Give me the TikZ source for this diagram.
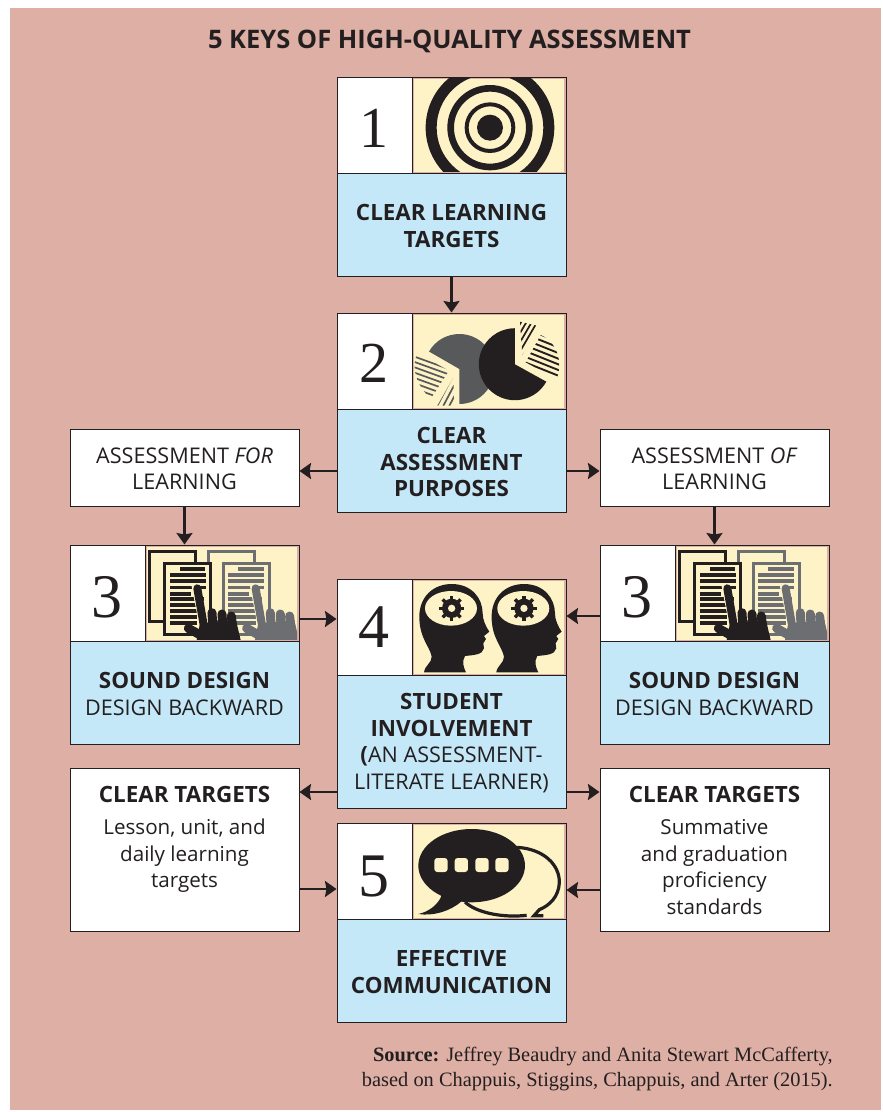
\documentclass[tikz,border=0pt]{standalone}
\usepackage{fontspec}
\setmainfont{Liberation Serif}
\newfontfamily\numfont{Liberation Serif}
\newfontfamily\sansf{Open Sans}
\usetikzlibrary{arrows.meta}
\definecolor{pinkbg}{HTML}{DEAFA4}
\definecolor{bluebg}{HTML}{C5E8F8}
\definecolor{creambg}{HTML}{FEF3C7}
\definecolor{inkc}{HTML}{231F20}
\definecolor{grayA}{HTML}{58595B}
\definecolor{grayB}{HTML}{6D6E71}
\newcommand\bt[1]{{\bfseries\fontsize{22.4}{26.5}\selectfont #1}}
\newcommand\up[1]{{\fontsize{21.6}{26.5}\selectfont #1}}
\tikzset{
  x=1pt,y=-1pt,
  panelbox/.style={draw=inkc,line width=1pt,anchor=north west,inner sep=0pt,outer sep=0pt},
  txt/.style={text=inkc,align=center,font=\sansf\fontsize{20.6}{26.5}\selectfont,inner sep=0pt},
  arr/.style={draw=inkc,line width=2.1pt,-{Stealth[length=11.5pt,width=16pt,inset=1.5pt]},shorten >=.5pt},
  iconunits/.style={x=.3333pt,y=-.3333pt},
}
\newcommand\keypanel[8]{% name,x,y,number,body height,text,size,baseline
  \node[panelbox,fill=white,minimum width=75pt,minimum height=96pt] (#1num) at (#2,#3) {};
  \node[panelbox,fill=pinkbg,minimum width=154pt,minimum height=96pt] (#1img) at ({#2+75},#3) {};
  \fill[creambg] ({#2+76.5},{#3+1.5}) rectangle ({#2+227},{#3+94.5});
  \node[panelbox,fill=bluebg,minimum width=229pt,minimum height=#5pt] (#1body) at (#2,{#3+96}) {};
  \node[txt] (#1text) at ([yshift=-1.5pt]#1body.center) {#6};
  \node[panelbox,minimum width=229pt,minimum height={96pt+#5pt}] (#1) at (#2,#3) {};
  \node[text=inkc,font=\numfont\fontsize{#7}{#7}\selectfont,inner sep=0pt,anchor=base] (#1n) at ({#2+37},{#3+#8}) {#4};
}
\newcommand\iconin[5]{% panel x,y, crop x,y, drawing
  \begin{scope}
    \clip ({#1+76.5},{#2+1.5}) rectangle ({#1+227},{#2+94.5});
    \begin{scope}[shift={(#3,#4)},iconunits]
      #5
    \end{scope}
  \end{scope}
}
\newcommand\icontarget{%
  \fill[inkc,even odd rule] (480,173) circle[radius=193] circle[radius=160];
  \fill[inkc,even odd rule] (480,173) circle[radius=128] circle[radius=108];
  \fill[inkc,even odd rule] (480,173) circle[radius=76] circle[radius=64];
  \fill[inkc] (480,173) circle[radius=39];
}
\newcommand\iconpies{%
  \fill[grayA] (388,192) -- (388,297) arc[start angle=90,end angle=-150,radius=105] -- cycle;
  \begin{scope}
    \clip (262,145) -- (357,197) -- (303,280) .. controls (265,250) and (240,190) .. (262,145) -- cycle;
    \foreach \yy in {70,86,...,250} \draw[grayA,line width=1.7pt] (240,\yy) -- (370,{\yy+47});
  \end{scope}
  \begin{scope}
    \clip (370,218) -- (372,302) -- (322,302) -- cycle;
    \foreach \xx in {300,318,...,390} \draw[grayA,line width=1.7pt] (\xx,310) -- ({\xx+60},196);
  \end{scope}
  \fill[inkc] (555,178) -- (649,230) arc[start angle=29,end angle=270,radius=108] -- cycle;
  \begin{scope}
    \clip (570,50) -- (622,62) -- (577,150) -- cycle;
    \foreach \xx in {510,526,...,640} \draw[inkc,line width=1.7pt] (\xx,160) -- ({\xx+70},40);
  \end{scope}
  \begin{scope}
    \clip (632,90) .. controls (680,110) and (700,170) .. (680,222) -- (587,172) -- cycle;
    \foreach \yy in {30,47,...,200} \draw[inkc,line width=1.9pt] (570,\yy) -- (700,{\yy+52});
  \end{scope}
}
\newcommand\docshape[1]{%
  \filldraw[draw=#1,fill=creambg,line width=3pt] (270,33) rectangle (408,243);
  \filldraw[draw=#1,fill=creambg,line width=3pt] (315,69) rectangle (453,283);
  \fill[#1] (360,81) rectangle (436,93);
  \foreach \yy/\xe in {99/438,118/438,137/438,156/392,172/432,190/432,208/432,226/412,243/412}
    \fill[#1] (330,\yy) rectangle (\xe,{\yy+11});
  \draw[creambg,line width=3pt] (398,130) -- (425,270);
  \fill[#1] (420,250) -- (528,240) -- (542,300) -- (410,300) -- cycle;
  \draw[#1,line width=8pt,line cap=round] (412,145) -- (432,260);
  \draw[#1,line width=9pt,line cap=round] (456,218) -- (460,280);
  \draw[#1,line width=9pt,line cap=round] (486,222) -- (490,280);
  \draw[#1,line width=9pt,line cap=round] (514,228) -- (520,285);
  \draw[#1,line width=9pt,line cap=round] (385,265) -- (430,290);
}
\newcommand\icondocs{%
  \begin{scope}[xshift=58.3pt]\docshape{grayB}\end{scope}
  \docshape{inkc}
}
\newcommand\onehead{%
  \fill[inkc] (282,292) .. controls (285,270) and (305,265) .. (305,245)
    .. controls (300,215) and (268,190) .. (268,125)
    .. controls (268,65) and (310,27) .. (365,27)
    .. controls (425,27) and (458,70) .. (458,115)
    .. controls (458,135) and (468,155) .. (478,170)
    -- (462,183) -- (468,192) -- (460,205) -- (462,220)
    .. controls (458,240) and (430,240) .. (405,243)
    .. controls (395,260) and (400,275) .. (408,292) -- cycle;
  \fill[creambg] (363,100) ellipse[x radius=78,y radius=52];
  \fill[inkc] (365,100) circle[radius=29];
  \foreach \aa in {0,45,...,315}
    \draw[inkc,line width=3.4pt] (365,100) -- ++(\aa:38);
  \fill[creambg] (365,100) circle[radius=11];
}
\newcommand\iconheads{%
  \onehead
  \begin{scope}[xshift=72.3pt]\onehead\end{scope}
}
\newcommand\iconspeech{%
  \draw[inkc,line width=3.2pt] (560,88) .. controls (640,92) and (690,140) .. (688,195)
    .. controls (686,235) and (660,262) .. (628,275) -- (612,293) -- (640,293);
  \draw[inkc,line width=3.2pt] (405,252) .. controls (440,285) and (520,300) .. (590,292);
  \fill[inkc] (425,143) ellipse[x radius=160,y radius=110];
  \fill[inkc] (335,232) .. controls (325,260) and (295,282) .. (265,288)
    .. controls (310,295) and (360,280) .. (395,250) -- cycle;
  \foreach \xx in {333,394,456,516}
    \fill[creambg,rounded corners=3pt] ({\xx-20},120) rectangle ({\xx+20},162);
}
\begin{document}
\begin{tikzpicture}
\useasboundingbox (0,0) rectangle (883,1112);
\fill[white] (0,0) rectangle (883,1112);
\fill[pinkbg] (10,8) rectangle (881,1110);
\node[text=inkc,inner sep=0pt,font=\sansf\bfseries\fontsize{25.5}{30}\selectfont] (title) at (449.5,41) {5 KEYS OF HIGH-QUALITY ASSESSMENT};

\keypanel{kone}{337}{77}{1}{103}{\bt{CLEAR LEARNING}\\\bt{TARGETS}}{58}{70}
\keypanel{ktwo}{337}{313}{2}{103}{\bt{CLEAR}\\\bt{ASSESSMENT}\\\bt{PURPOSES}}{58}{69}
\keypanel{kthreeL}{70}{545}{3}{103}{\bt{SOUND DESIGN}\\\up{DESIGN BACKWARD}}{62}{72}
\keypanel{kthreeR}{600}{545}{3}{103}{\bt{SOUND DESIGN}\\\up{DESIGN BACKWARD}}{62}{72}
\keypanel{kfour}{337}{579}{4}{133}{\bt{STUDENT}\\\bt{INVOLVEMENT}\\\bt{(}\up{AN ASSESSMENT-}\\\up{LITERATE LEARNER)}}{62}{68}
\keypanel{kfive}{337}{823}{5}{103}{\bt{EFFECTIVE}\\\bt{COMMUNICATION}}{62}{73}

\iconin{337}{77}{330}{70}{\icontarget}
\iconin{337}{313}{330}{305}{\iconpies}
\iconin{70}{545}{60}{540}{\icondocs}
\iconin{600}{545}{590}{540}{\icondocs}
\iconin{337}{579}{330}{575}{\iconheads}
\iconin{337}{823}{330}{818}{\iconspeech}

\node[panelbox,fill=white,minimum width=229pt,minimum height=77pt] (forbox) at (70,429) {};
\node[txt] (fortext) at ([yshift=-1.5pt]forbox.center) {\up{ASSESSMENT \textit{FOR}}\\\up{LEARNING}};
\node[panelbox,fill=white,minimum width=229pt,minimum height=77pt] (ofbox) at (600,429) {};
\node[txt] (oftext) at ([yshift=-1.5pt]ofbox.center) {\up{ASSESSMENT \textit{OF}}\\\up{LEARNING}};
\node[panelbox,fill=white,minimum width=229pt,minimum height=163pt] (clearL) at (70,768) {};
\node[panelbox,fill=white,minimum width=229pt,minimum height=163pt] (clearR) at (600,768) {};
\node[txt,anchor=north] (clearLt) at (184.5,786) {\bt{CLEAR TARGETS}\\[6pt]Lesson, unit, and\\daily learning\\targets};
\node[txt,anchor=north] (clearRt) at (714.5,786) {\bt{CLEAR TARGETS}\\[6pt]Summative\\and graduation\\proficiency\\standards};

\node[anchor=north east,align=right,inner sep=0pt,text=inkc,font=\fontsize{20.4}{24.5}\selectfont] (src) at (833,1047) {\textbf{Source:} Jeffrey Beaudry and Anita Stewart McCafferty,\\based on Chappuis, Stiggins, Chappuis, and Arter (2015).};

\draw[arr] (kone.south) -- (ktwo.north);
\draw[arr] ([yshift=-10.5pt]ktwobody.west) -- ([yshift=-3.5pt]forbox.east);
\draw[arr] ([yshift=-10.5pt]ktwobody.east) -- ([yshift=-3.5pt]ofbox.west);
\draw[arr] (forbox.south) -- (kthreeL.north);
\draw[arr] (ofbox.south) -- (kthreeR.north);
\draw[arr] ([yshift=25.5pt]kthreeL.east) -- ([yshift=74.5pt]kfour.west);
\draw[arr] ([yshift=28.5pt]kthreeR.west) -- ([yshift=77.5pt]kfour.east);
\draw[arr] ([yshift=-98.5pt]kfour.west) -- ([yshift=57.5pt]clearL.east);
\draw[arr] ([yshift=-98.5pt]kfour.east) -- ([yshift=57.5pt]clearR.west);
\draw[arr] ([yshift=-39.5pt]clearL.east) -- ([yshift=33.5pt]kfive.west);
\draw[arr] ([yshift=-40.5pt]clearR.west) -- ([yshift=32.5pt]kfive.east);
\end{tikzpicture}
\end{document}
